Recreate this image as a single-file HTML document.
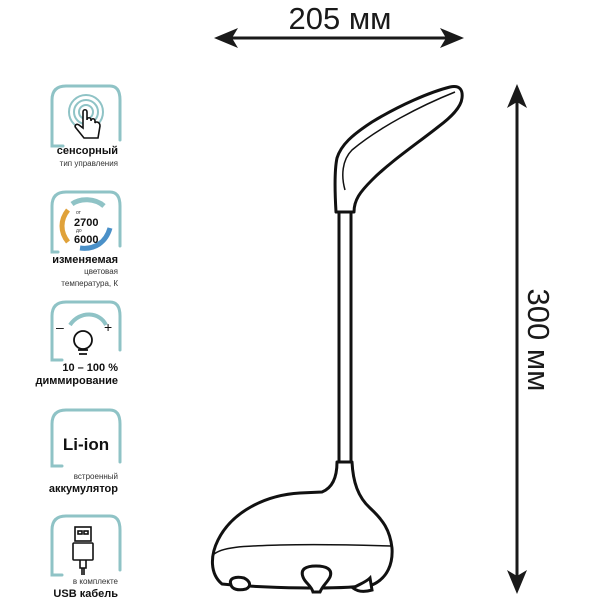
<!DOCTYPE html>
<html><head><meta charset="utf-8"><style>
body{margin:0;background:#fff;}
svg{display:block;}
text{font-family:"Liberation Sans","DejaVu Sans",sans-serif;}
</style></head><body>
<svg width="600" height="600" viewBox="0 0 600 600" xmlns="http://www.w3.org/2000/svg">
<!-- dimension lines -->
<line x1="225" y1="38" x2="455" y2="38" stroke="#1a1a1a" stroke-width="3"/>
<path d="M214,38 L238,28 L232,38 L238,48 Z" fill="#1a1a1a"/>
<path d="M464,38 L440,28 L446,38 L440,48 Z" fill="#1a1a1a"/>
<text x="340" y="29" font-size="31" text-anchor="middle" fill="#1a1a1a">205 мм</text>
<line x1="517" y1="95" x2="517" y2="585" stroke="#1a1a1a" stroke-width="3"/>
<path d="M517,84 L507,108 L517,102 L527,108 Z" fill="#1a1a1a"/>
<path d="M517,594 L507,570 L517,576 L527,570 Z" fill="#1a1a1a"/>
<text x="0" y="0" font-size="31" text-anchor="middle" fill="#1a1a1a" transform="translate(528,340) rotate(90)">300 мм</text>

<!-- lamp -->
<g fill="none" stroke="#111" stroke-width="3" stroke-linejoin="round">
<path d="M336,212 C335,195 334,172 337,158 C341,145 352,135 372,122 C400,105 430,92 450,87 C460,85 463,90 462,98 C461,108 450,118 438,127 C415,145 390,162 372,180 C360,192 354,200 354,212 Z"/>
<path d="M339,212 L339,462 M351,212 L351,462"/>
<path d="M337,462 C337,478 332,488 322,492 L300,493 C265,495 232,512 218,540 C210,556 210,574 222,584 C265,588 340,590 372,585 C388,578 393,563 392,548 C390,530 383,520 370,508 C358,497 353,482 352,462 Z"/>
<path d="M338,462 L352,462"/>
</g>
<g fill="none" stroke="#111" stroke-width="1.5">
<path d="M345,190 C341,176 342,160 352,150 C378,128 420,106 455,92"/>
<path d="M213,555 C222,546 250,546 280,545 C320,544 360,545 391,546"/>
</g>
<g fill="#fff" stroke="#111" stroke-width="3">
<path d="M231,585 C228,578 236,576 244,578 C250,581 252,586 246,589 C238,591 232,589 231,585 Z"/>
<path d="M303,577 C300,569 306,566 316,566 C326,566 333,569 330,577 C327,583 323,585 320,592 L313,592 C311,585 305,583 303,577 Z"/>
<path d="M353,588 C360,584 366,582 370,578 L372,590 C365,592 358,592 353,588 Z"/>
</g>

<!-- icon frames -->
<g fill="none" stroke="#8fc3c6" stroke-width="3" stroke-linecap="round">
<path d="M63,146 L52,146 L52,100 Q52,86 66,86 L110,86 Q120,86 120,100 L120,140"/>
<path d="M58,252 L52,252 L52,206 Q52,192 66,192 L110,192 Q120,192 120,206 L120,246"/>
<path d="M62,360 L52,360 L52,316 Q52,302 66,302 L110,302 Q120,302 120,316 L120,350"/>
<path d="M62,466 L52,466 L52,424 Q52,410 66,410 L110,410 Q120,410 120,424 L120,462"/>
<path d="M62,575 L52,575 L52,530 Q52,516 66,516 L110,516 Q120,516 120,530 L120,570"/>
</g>
<!-- icon 1: touch -->
<g fill="none" stroke="#8fc3c6" stroke-width="2">
<circle cx="86" cy="112" r="7"/><circle cx="86" cy="112" r="12"/><circle cx="86" cy="112" r="17"/>
</g>
<path d="M83,112 L83,128 L79,125 C76,123 74,126 76,128 L84,138 L98,138 L100,126 C100,122 96,121 95,123 L95,121 C95,118 91,118 91,121 L91,120 C91,117 87,117 87,120 L87,112 C87,109 83,109 83,112 Z" fill="#fff" stroke="#111" stroke-width="1.6"/>
<text x="118" y="154" font-size="11" font-weight="bold" text-anchor="end" fill="#111">сенсорный</text>
<text x="118" y="166" font-size="8" text-anchor="end" fill="#333">тип управления</text>
<!-- icon 2 -->
<path d="M104,206 C95,198 80,198 72,204" fill="none" stroke="#8fc3c6" stroke-width="5"/>
<path d="M68,210 C60,220 60,232 68,242" fill="none" stroke="#e0a23a" stroke-width="5"/>
<path d="M80,248 C95,250 106,242 110,228" fill="none" stroke="#4a90c8" stroke-width="5"/>
<text x="76" y="214" font-size="5" fill="#333">от</text>
<text x="74" y="226" font-size="11" font-weight="bold" fill="#111">2700</text>
<text x="76" y="232" font-size="5" fill="#333">до</text>
<text x="74" y="243" font-size="11" font-weight="bold" fill="#111">6000</text>
<text x="118" y="263" font-size="11" font-weight="bold" text-anchor="end" fill="#111">изменяемая</text>
<text x="118" y="274" font-size="8" text-anchor="end" fill="#333">цветовая</text>
<text x="118" y="286" font-size="8" text-anchor="end" fill="#333">температура, К</text>
<!-- icon 3 -->
<path d="M70,325 C80,310 100,312 106,325" fill="none" stroke="#8fc3c6" stroke-width="4"/>
<text x="56" y="332" font-size="14" fill="#111">–</text>
<text x="104" y="332" font-size="14" fill="#111">+</text>
<circle cx="83" cy="340" r="9" fill="none" stroke="#111" stroke-width="1.8"/>
<path d="M78,350 L88,350 M79,354 L87,354" stroke="#111" stroke-width="1.8"/>
<text x="118" y="371" font-size="11" font-weight="bold" text-anchor="end" fill="#111">10 – 100 %</text>
<text x="118" y="384" font-size="11" font-weight="bold" text-anchor="end" fill="#111">диммирование</text>
<!-- icon 4 -->
<text x="86" y="450" font-size="17" font-weight="bold" text-anchor="middle" fill="#111">Li-ion</text>
<text x="118" y="479" font-size="8" text-anchor="end" fill="#333">встроенный</text>
<text x="118" y="492" font-size="11" font-weight="bold" text-anchor="end" fill="#111">аккумулятор</text>
<!-- icon 5 -->
<g fill="none" stroke="#111" stroke-width="1.6">
<rect x="75" y="527" width="16" height="14"/><rect x="78" y="531" width="4" height="3"/><rect x="84" y="531" width="4" height="3"/>
<rect x="73" y="543" width="20" height="17" rx="1"/>
<path d="M80,560 L80,568 L86,568 L86,560 M82,568 L82,575 M84,568 L84,575"/>
</g>
<text x="118" y="584" font-size="8" text-anchor="end" fill="#333">в комплекте</text>
<text x="118" y="597" font-size="11" font-weight="bold" text-anchor="end" fill="#111">USB кабель</text>
</svg>
</body></html>
